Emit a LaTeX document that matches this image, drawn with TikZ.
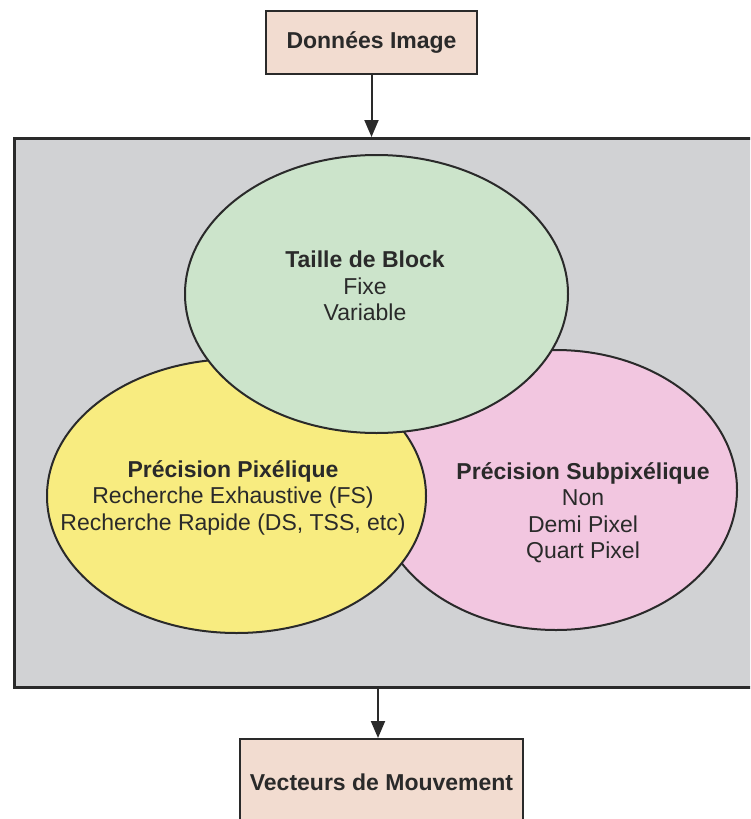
\documentclass[tikz,border=0pt]{standalone}
\usepackage{fontspec}
\setmainfont{Liberation Sans}
\usetikzlibrary{arrows.meta,shapes.geometric}
\definecolor{ink}{HTML}{2A2A2A}
\definecolor{panelgray}{HTML}{D1D2D4}
\definecolor{boxfill}{HTML}{F2DCD0}
\definecolor{greenfill}{HTML}{CCE4CB}
\definecolor{yellowfill}{HTML}{F8EC80}
\definecolor{pinkfill}{HTML}{F2C6E0}
\tikzset{
  iobox/.style={draw=ink, line width=2pt, fill=boxfill, inner sep=0pt},
  zone/.style={ellipse, draw=ink, line width=2pt, inner sep=0pt},
  lbl/.style={text=ink, align=center, inner sep=0pt,
    font=\fontsize{23}{26.5}\selectfont},
  flow/.style={draw=ink, line width=2pt, -{Triangle[width=14pt,length=17pt]}}
}
\begin{document}
\begin{tikzpicture}[x=1pt,y=-1pt]
  \useasboundingbox (0,0) rectangle (750,819);
  \clip (0,0) rectangle (750,819);
  % grey processing panel, running past the right edge
  \node[draw=ink, line width=2.5pt, fill=panelgray, minimum width=760pt,
        minimum height=549pt, inner sep=0pt, anchor=north west] (panel) at (13,137) {};
  % three overlapping zones (pink below, yellow, green on top)
  \node[zone, fill=pinkfill, minimum width=362pt, minimum height=280pt] (pink) at (556,490) {};
  \node[zone, fill=yellowfill, minimum width=379pt, minimum height=274pt] (yellow) at (236.5,496) {};
  \node[zone, fill=greenfill, minimum width=383pt, minimum height=278pt] (green) at (376.5,294) {};
  % zone texts
  \node[lbl] (tgreen) at (365,286) {\textbf{Taille de Block}\\Fixe\\Variable};
  \node[lbl] (tyellow) at (233,497.5) {\textbf{Précision Pixélique}\\Recherche Exhaustive (FS)\\Recherche Rapide (DS, TSS, etc)};
  \node[lbl] (tpink) at (583,512.5) {\textbf{Précision Subpixélique}\\Non\\Demi Pixel\\Quart Pixel};
  % input and output boxes
  \node[iobox, minimum width=211pt, minimum height=63pt] (in) at (371.5,42.5) {};
  \node[lbl] (tin) at (in.center) {\textbf{Données Image}};
  \node[iobox, minimum width=283pt, minimum height=100pt, anchor=north] (out) at (381.5,738) {};
  \node[lbl] (tout) at (381.5,782) {\textbf{Vecteurs de Mouvement}};
  % flow arrows
  \draw[flow] (in.south) -- (in.south |- panel.north);
  \coordinate (outtop) at (378,738);
  \draw[flow] (outtop |- panel.south) -- (outtop);
\end{tikzpicture}
\end{document}
